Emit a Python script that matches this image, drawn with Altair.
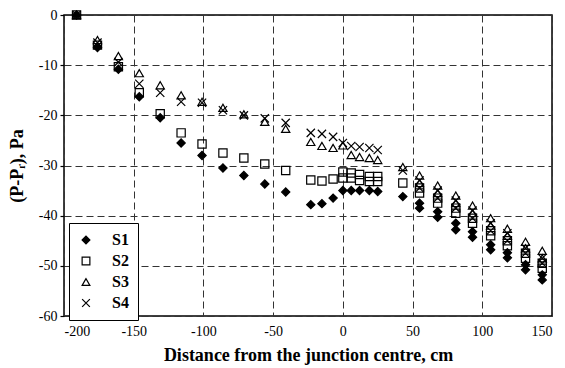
import altair as alt
import pandas as pd

# positions along the channel (cm)
x_main = [-191, -176, -161, -146, -131, -116, -101, -86, -71, -56, -41, -23, -15, -7, 0,
          6, 12, 19, 25, 43, 55, 68, 81, 93, 106, 118, 131, 143]
# first reading at each position
s1_y = [0, -6.5, -10.8, -16.3, -20.5, -25.5, -28, -30.5, -32, -33.7, -35.3, -37.8, -37.6, -36.5, -35,
        -35, -35, -35, -35.2, -36.2, -37.5, -39.2, -41.5, -43.2, -45.8, -47.4, -49.8, -51.8]
s2_y = [0, -6, -10.3, -15.5, -19.7, -23.5, -25.7, -27.5, -28.5, -29.7, -31, -32.9, -33.1, -32.7, -31.3,
        -31.5, -31.8, -32.2, -32.2, -33.5, -34.5, -36.5, -38.5, -40.5, -43, -45, -47.5, -49.5]
s3_y = [0, -5, -8.2, -11.6, -14, -16, -17.3, -18.5, -19.8, -21.3, -22.7, -25.3, -26.1, -26.5, -26,
        -27.9, -28.3, -28.5, -28.9, -30.3, -32, -34, -36, -38, -40.5, -42.6, -45.2, -47]
s4_y = [0, -5.5, -9.4, -13.7, -15.5, -17.3, -17.5, -19, -20, -20.6, -21.5, -23.5, -23.7, -24.3, -25.5,
        -26.1, -26.3, -26.5, -26.9, -31, -33, -35, -37, -39, -41.5, -43.5, -46.5, -48.5]

# second reading at the downstream positions
x_second = [55, 68, 81, 93, 106, 118, 131, 143]
s1_y2 = [-38.5, -40.3, -42.8, -44.3, -46.8, -48.4, -50.8, -52.8]
s2_y2 = [-35.5, -37.5, -39.5, -41.5, -44, -46, -48.5, -50.5]
s3_y2 = [-33.5, -35.5, -37.5, -39.5, -42, -44, -46.5, -48.5]
s4_y2 = [-34.5, -36.5, -38.5, -40.5, -43, -45, -47.5, -49.5]
# second S2 reading near the junction
x_second_s2 = [0, 6, 12, 19, 25]
s2_y3 = [-32.5, -32.5, -33, -33.2, -33.2]

series = ["S1", "S2", "S3", "S4"]

rows = []
for name, ys, ys2 in zip(series, [s1_y, s2_y, s3_y, s4_y], [s1_y2, s2_y2, s3_y2, s4_y2]):
    rows += [{"x": x, "y": y, "s": name} for x, y in zip(x_main, ys)]
    rows += [{"x": x, "y": y, "s": name} for x, y in zip(x_second, ys2)]
rows += [{"x": x, "y": y, "s": "S2"} for x, y in zip(x_second_s2, s2_y3)]
df = pd.DataFrame(rows)

FONT = "Liberation Serif"
xpath = "M-1,-1L1,1M1,-1L-1,1"


def make_legend():
    return alt.Legend(title=None, orient="none", legendX=5, legendY=208,
                      strokeColor="black", fillColor="white", padding=9,
                      labelFont=FONT, labelFontSize=16, labelFontWeight="bold",
                      labelColor="black", symbolStrokeWidth=1.2, rowPadding=5,
                      labelOffset=18, symbolSize=60, labelLimit=200)


chart = alt.Chart(df).mark_point(filled=False, strokeWidth=1.2, opacity=1).encode(
    x=alt.X("x:Q", scale=alt.Scale(domain=[-200, 150], nice=False),
            axis=alt.Axis(values=[-200, -150, -100, -50, 0, 50, 100, 150],
                          title="Distance from the junction centre, cm",
                          labelExpr="datum.value", ticks=False, labelPadding=8,
                          titlePadding=8)),
    y=alt.Y("y:Q", scale=alt.Scale(domain=[-60, 0], nice=False),
            axis=alt.Axis(values=[-60, -50, -40, -30, -20, -10, 0],
                          title="(P-Pᵣ), Pa", labelExpr="datum.value",
                          ticks=True, tickSize=4, labelPadding=3, titlePadding=12)),
    shape=alt.Shape("s:N", scale=alt.Scale(domain=series,
                                           range=["diamond", "square", "triangle-up", xpath]),
                    legend=make_legend()),
    fill=alt.Fill("s:N", scale=alt.Scale(domain=series,
                                         range=["black", "transparent", "transparent", "transparent"]),
                  legend=make_legend()),
    stroke=alt.Stroke("s:N", scale=alt.Scale(domain=series,
                                             range=["black", "black", "black", "black"]),
                      legend=make_legend()),
    size=alt.value(68),
).properties(
    width=488, height=301,
    autosize=alt.AutoSizeParams(type="none"),
    padding={"left": 64, "top": 15, "right": 13, "bottom": 52},
    background="white",
).configure_view(
    stroke="black", strokeWidth=1.5,
).configure_axis(
    grid=True, gridColor="#333", gridDash=[7, 4], gridWidth=1, gridOpacity=1,
    domain=False, tickColor="black", tickWidth=1.2,
    labelFont=FONT, labelFontSize=14, labelColor="black",
    titleFont=FONT, titleFontSize=18, titleFontWeight="bold", titleColor="black",
)

chart.save("out.html", embed_options={"renderer": "svg", "actions": False})
